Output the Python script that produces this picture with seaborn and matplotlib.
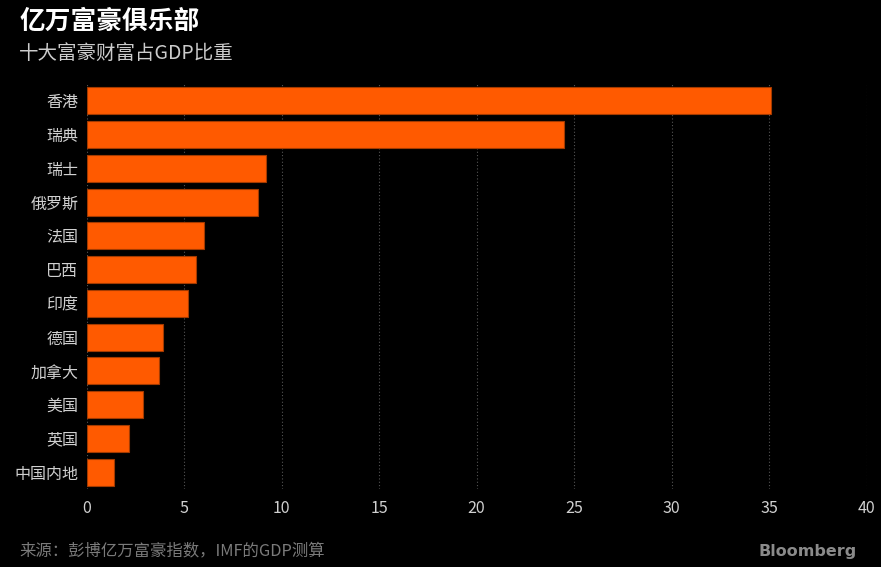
import matplotlib
matplotlib.use("Agg")
import matplotlib.pyplot as plt
import seaborn as sns
import pandas as pd

regions = ["香港", "瑞典", "瑞士", "俄罗斯", "法国", "巴西", "印度", "德国", "加拿大", "美国", "英国", "中国内地"]
values = [35.1, 24.5, 9.2, 8.8, 6.0, 5.6, 5.2, 3.9, 3.7, 2.9, 2.2, 1.4]
xticks = [0, 5, 10, 15, 20, 25, 30, 35, 40]

sns.set_style("dark")
plt.rcParams['font.family'] = ['Noto Sans CJK SC', 'DejaVu Sans']

df = pd.DataFrame({"region": regions, "value": values})

fig = plt.figure(figsize=(8.81, 5.67), dpi=100, facecolor="black")
ax = fig.add_axes([0.0982, 0.1376, 0.8856, 0.7143])
ax.set_facecolor("black")

sns.barplot(data=df, x="value", y="region", orient="h", color="#FF5A00",
            saturation=1, width=0.8, edgecolor="#A33A00", linewidth=0.8, ax=ax)

ax.set_xlim(0, 40)
ax.set_ylim(11.5, -0.5)
ax.set_xticks(xticks)
ax.set_xticklabels([str(t) for t in xticks])
ax.grid(axis="x", color="#555555", linestyle=(0, (1, 2)), linewidth=0.8)
ax.grid(axis="y", visible=False)
ax.set_axisbelow(True)
for s in ax.spines.values():
    s.set_visible(False)
ax.tick_params(axis="both", length=0, colors="#d0d0d0", labelsize=11.5)
ax.tick_params(axis="x", pad=8)
ax.tick_params(axis="y", pad=6)
ax.set_xlabel("")
ax.set_ylabel("")

fig.text(0.022, 0.962, "亿万富豪俱乐部", color="white", fontsize=18.5, fontweight="bold", va="center", ha="left")
fig.text(0.022, 0.905, "十大富豪财富占GDP比重", color="#cccccc", fontsize=14, va="center", ha="left")
fig.text(0.022, 0.028, "来源：彭博亿万富豪指数，IMF的GDP测算", color="#7a7a7a", fontsize=11.8, va="center", ha="left")
fig.text(0.972, 0.028, "Bloomberg", color="#8a8a8a", fontsize=11.5, fontweight="bold", va="center", ha="right", family="DejaVu Sans")

fig.savefig("out.png", dpi=100, facecolor="black")
